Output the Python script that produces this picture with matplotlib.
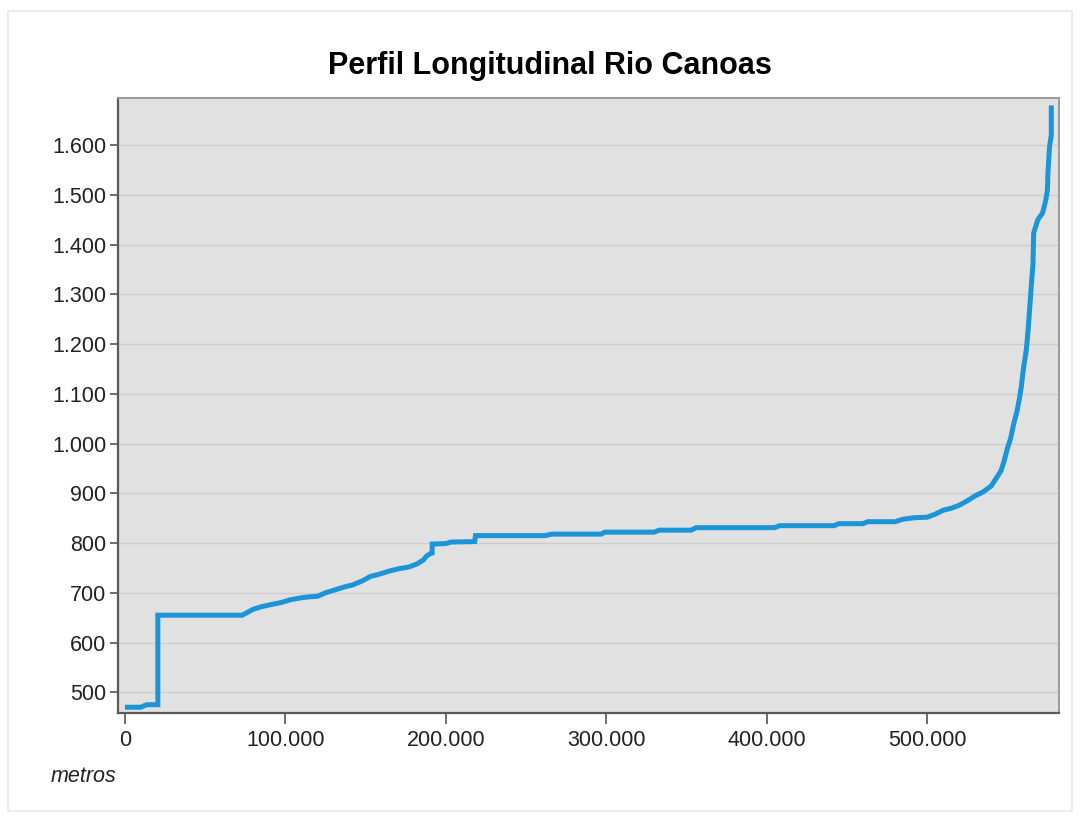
import matplotlib.pyplot as plt
from matplotlib.patches import Rectangle
from matplotlib.ticker import FuncFormatter

# Distância ao longo do rio (metros) e altitude (m)
distancia = [0, 10000, 12000, 13500, 20500, 20500, 73000, 76000, 80000, 85000,
             92000, 98000, 103000, 110000, 115000, 120000, 125000, 130000, 137000, 142000,
             148000, 153000, 158000, 165000, 170000, 177000, 182000, 186000, 188000, 190000,
             191500, 191500, 200000, 203000, 218000, 218500, 262000, 266000, 297000, 299000,
             330000, 333000, 353000, 356000, 405000, 408000, 442000, 445000, 460000, 463000,
             480000, 485000, 492000, 500000, 505000, 510000, 515000, 520000, 525000, 530000,
             535000, 540000, 543000, 546000, 548000, 550000, 552000, 554000, 556000, 557500,
             558700, 560000, 561800, 563000, 564000, 565000, 566000, 566400, 568000, 569000,
             572000, 574000, 575000, 575300, 576300, 577400, 577400]
altitude = [470, 470, 473, 475, 475, 655, 655, 660, 667, 672,
            677, 681, 686, 690, 692, 693, 700, 705, 712, 716,
            724, 733, 737, 744, 748, 752, 758, 766, 774, 778,
            780, 798, 799, 802, 803, 815, 815, 818, 818, 822,
            822, 826, 826, 831, 831, 835, 835, 839, 839, 843,
            843, 848, 851, 852, 858, 866, 870, 876, 885, 895,
            903, 915, 930, 945, 965, 990, 1010, 1040, 1065, 1090,
            1114, 1150, 1188, 1230, 1275, 1320, 1363, 1423, 1440, 1450,
            1464, 1490, 1510, 1544, 1597, 1620, 1680]

x_ticks = [0, 100000, 200000, 300000, 400000, 500000]
y_ticks = [500, 600, 700, 800, 900, 1000, 1100, 1200, 1300, 1400, 1500, 1600]

plt.rcParams['font.family'] = ['Liberation Sans', 'DejaVu Sans']

fig = plt.figure(figsize=(10.8, 8.16), dpi=100)
ax = fig.add_axes([0.109, 0.126, 0.872, 0.754])

# moldura clara em volta de tudo
fig.patches.append(Rectangle((8 / 1080, 5 / 816), 1064 / 1080, 800 / 816,
                             transform=fig.transFigure, fill=False,
                             edgecolor='#ececec', linewidth=1.5))

ax.set_facecolor('#e1e1e1')
ax.plot(distancia, altitude, color='#1b95d7', linewidth=3.6,
        solid_joinstyle='miter', solid_capstyle='butt')

ax.set_xlim(-4500, 582500)
ax.set_ylim(458, 1695)
ax.set_xticks(x_ticks)
ax.set_yticks(y_ticks)

fmt = FuncFormatter(lambda v, p: f'{int(v):,}'.replace(',', '.'))
ax.xaxis.set_major_formatter(fmt)
ax.yaxis.set_major_formatter(fmt)

ax.grid(axis='y', color='#cdcdcd', linewidth=1)
ax.set_axisbelow(True)

ax.tick_params(axis='y', length=6, width=1.2, color='#555555', pad=2,
               labelsize=15.5, labelcolor='#222222')
ax.tick_params(axis='x', length=8, width=1.2, color='#555555', pad=4,
               labelsize=15.5, labelcolor='#222222')

for s in ['left', 'bottom']:
    ax.spines[s].set_color('#5a5a5a')
    ax.spines[s].set_linewidth(1.6)
for s in ['top', 'right']:
    ax.spines[s].set_color('#9a9a9a')
    ax.spines[s].set_linewidth(1.4)

fig.text(550 / 1080, 1 - 66 / 816, 'Perfil Longitudinal Rio Canoas',
         ha='center', va='center', fontsize=22, fontweight='bold', color='black')
fig.text(51 / 1080, 1 - 776 / 816, 'metros', ha='left', va='center',
         fontsize=15.5, fontstyle='italic', color='#222222')

fig.savefig('out.png', dpi=100)
